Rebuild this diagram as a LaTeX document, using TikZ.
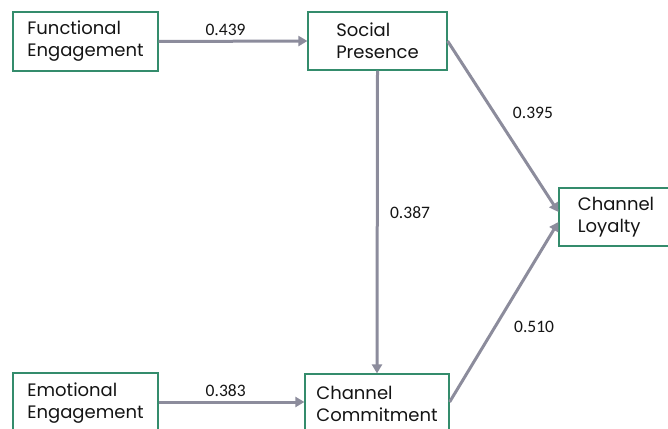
\documentclass[tikz,border=0pt]{standalone}
\usepackage{fontspec}
\setmainfont{Poppins}
\newfontfamily\numfont{Carlito}
\usepackage{xcolor}
\usepackage{tikz}
\usetikzlibrary{arrows.meta}

\definecolor{boxgreen}{RGB}{52,140,108}
\definecolor{arrowgray}{RGB}{140,140,156}
\definecolor{textdark}{RGB}{20,20,20}

\tikzset{
  construct/.style={shape=rectangle,draw=boxgreen,line width=1.2pt,align=left,
    text=textdark,font=\fontsize{18}{22}\selectfont},
  link/.style={draw=arrowgray,line width=3pt,-{Triangle[length=9pt,width=10pt]}},
  coef/.style={text=textdark,font=\numfont\fontsize{17.5}{20}\selectfont}
}

\begin{document}
\begin{tikzpicture}[x=1pt,y=-1pt]
    \useasboundingbox (0,0) rectangle (668,428);
    \clip (0,0) rectangle (668,428);
    \node[construct,minimum width=145pt,minimum height=59pt] (FE) at (85.5,41.5) {Functional\\Engagement};
    \node[construct,minimum width=139pt,minimum height=58pt] (SP) at (377.5,41) {Social\\Presence};
    \node[construct,minimum width=114pt,minimum height=58pt] (CL) at (616,217) {Channel\\Loyalty};
    \node[construct,minimum width=145pt,minimum height=60pt] (EE) at (85.5,403) {Emotional\\Engagement};
    \node[construct,minimum width=144pt,minimum height=60pt] (CC) at (377,404) {Channel\\Commitment};
    \path (FE.east) edge[link] node[coef,above=1pt,pos=0.45]{0.439} (SP.west);
    \path (SP.east) edge[link] node[coef,anchor=west,xshift=14pt,pos=0.42]{0.395} ([yshift=5pt]CL.west);
    \path (SP.south) edge[link] node[coef,right=8pt,pos=0.47]{0.387} (CC.north);
    \path ([yshift=1pt]EE.east) edge[link] node[coef,above=1pt,pos=0.46]{0.383} ([yshift=2pt]CC.west);
    \path ([yshift=2pt]CC.east) edge[link] node[coef,anchor=west,xshift=14pt,pos=0.42]{0.510} ([yshift=-5pt]CL.west);
\end{tikzpicture}
\end{document}
